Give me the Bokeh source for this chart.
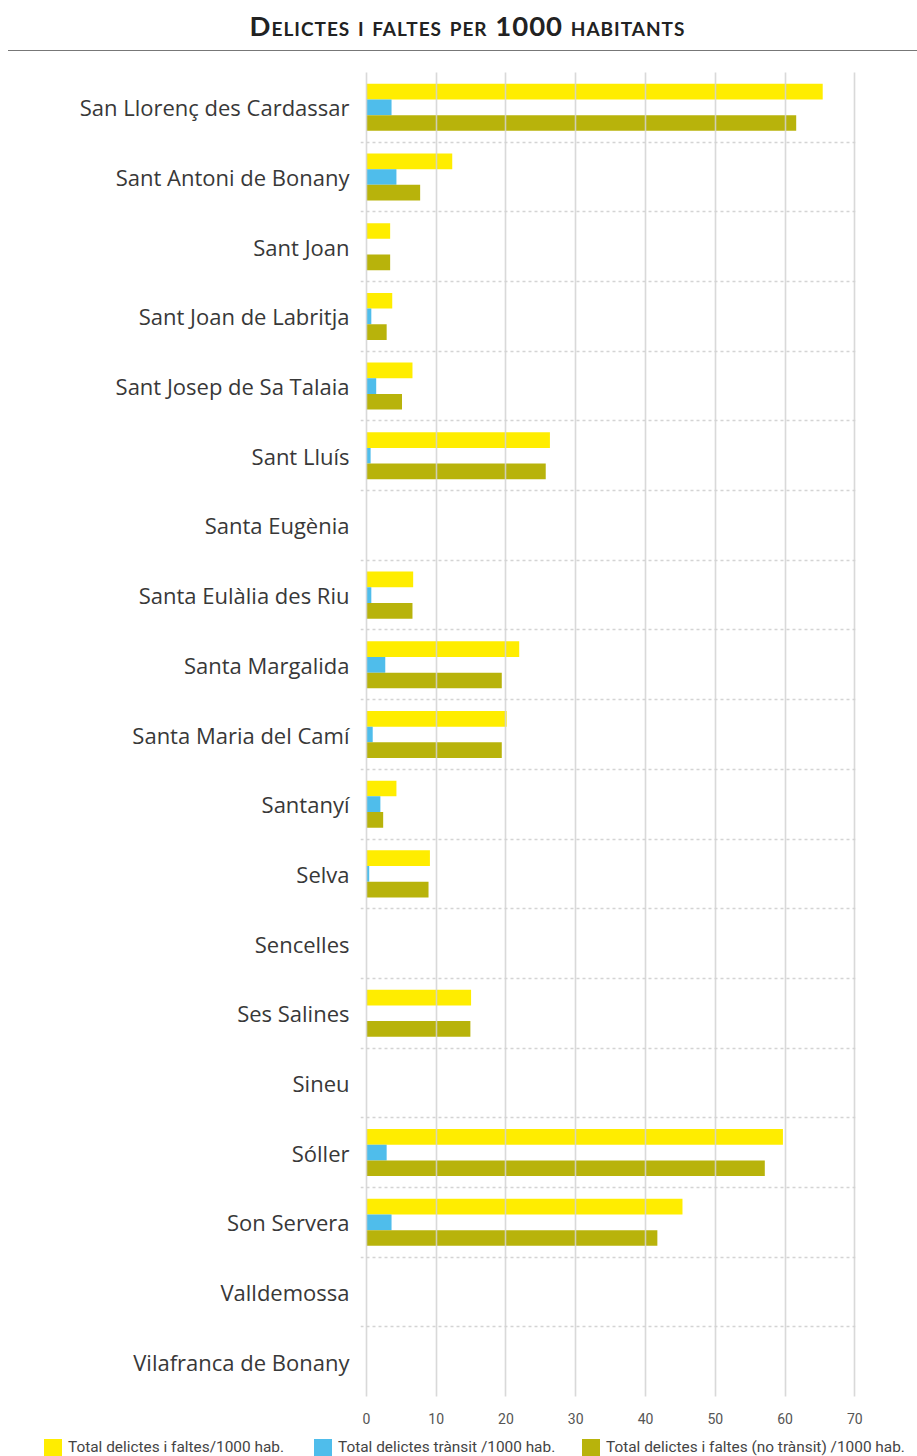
import numpy as np
from bokeh.plotting import figure
from bokeh.models import (Div, Range1d, FixedTicker, ColumnDataSource)
from bokeh.layouts import column
from bokeh.transform import dodge
from bokeh.embed import file_html
from bokeh.resources import INLINE

title_text = "Delictes i faltes per 1000 habitants"

municipis = [
    "San Llorenç des Cardassar", "Sant Antoni de Bonany", "Sant Joan",
    "Sant Joan de Labritja", "Sant Josep de Sa Talaia", "Sant Lluís",
    "Santa Eugènia", "Santa Eulàlia des Riu", "Santa Margalida",
    "Santa Maria del Camí", "Santanyí", "Selva", "Sencelles", "Ses Salines",
    "Sineu", "Sóller", "Son Servera", "Valldemossa", "Vilafranca de Bonany",
]
total = [65.4, 12.3, 3.4, 3.7, 6.6, 26.3, 0, 6.7, 21.9, 20.1, 4.3, 9.1, 0,
         15.0, 0, 59.7, 45.3, 0, 0]
transit = [3.6, 4.3, 0, 0.7, 1.4, 0.6, 0, 0.7, 2.7, 0.9, 2.0, 0.4, 0,
           0, 0, 2.9, 3.6, 0, 0]
no_transit = [61.6, 7.7, 3.4, 2.9, 5.1, 25.7, 0, 6.6, 19.4, 19.4, 2.4, 8.9, 0,
              14.9, 0, 57.1, 41.7, 0, 0]
series_names = ["Total delictes i faltes/1000 hab.",
                "Total delictes trànsit /1000 hab.",
                "Total delictes i faltes (no trànsit) /1000 hab."]
x_ticks = [0, 10, 20, 30, 40, 50, 60, 70]

colors = ["#FFED00", "#4FBDEB", "#B8B30B"]

n = len(municipis)
pos = np.arange(n)
src = ColumnDataSource(dict(
    y=pos, total=total, transit=transit, no_transit=no_transit))

p = figure(width=917, height=1385, output_backend="svg", toolbar_location=None,
           x_range=Range1d(-0.85, 70.1), y_range=Range1d(n - 0.5, -0.5),
           min_border_left=360, min_border_right=62, min_border_top=21,
           min_border_bottom=40, margin=0)
p.outline_line_color = None
p.background_fill_color = "white"

bw = 0.225
r1 = p.hbar(y=dodge("y", -bw, range=p.y_range), left=0, right="total", height=bw,
            source=src, fill_color=colors[0], line_color=None)
r2 = p.hbar(y="y", left=0, right="transit", height=bw,
            source=src, fill_color=colors[1], line_color=None)
r3 = p.hbar(y=dodge("y", bw, range=p.y_range), left=0, right="no_transit",
            height=bw, source=src, fill_color=colors[2], line_color=None)

# grids
p.xgrid.ticker = FixedTicker(ticks=x_ticks)
p.xgrid.grid_line_color = "#d2d2d2"
p.xgrid.grid_line_width = 1.6
p.xgrid.grid_line_alpha = 0.85
p.xgrid.level = "overlay"
p.ygrid.ticker = FixedTicker(ticks=[i - 0.5 for i in range(n + 1)])
p.ygrid.grid_line_color = "#d4d4d4"
p.ygrid.grid_line_width = 1.6
p.ygrid.grid_line_dash = "3 3"

# x axis
xa = p.xaxis[0]
xa.ticker = FixedTicker(ticks=x_ticks)
xa.axis_line_color = None
xa.major_tick_line_color = None
xa.minor_tick_line_color = None
xa.major_tick_out = 0
xa.major_label_standoff = 16
xa.major_label_text_font = "Roboto"
xa.major_label_text_font_size = "14px"
xa.major_label_text_color = "#555555"

# y axis
ya = p.yaxis[0]
ya.ticker = FixedTicker(ticks=list(range(n)))
ya.major_label_overrides = {i: name for i, name in enumerate(municipis)}
ya.axis_line_color = None
ya.major_tick_line_color = None
ya.minor_tick_line_color = None
ya.major_tick_out = 0
ya.major_label_standoff = 11
ya.major_label_text_font = "Open Sans"
ya.major_label_text_font_size = "22px"
ya.major_label_text_color = "#383838"

# legend strip below the chart
legend_x = [44, 314, 582]
items_html = ""
for x, c, name in zip(legend_x, colors, series_names):
    items_html += (
        f'<span style="position:absolute;left:{x}px;top:3px;width:18px;'
        f'height:17px;background:{c};"></span>'
        f'<span style="position:absolute;left:{x + 24}px;top:3px;'
        f'line-height:17px;white-space:nowrap;">{name}</span>')
legend_div = Div(
    text=('<div style="position:relative;width:917px;height:20px;'
          'font-family:Roboto, sans-serif;font-size:15.4px;color:#444;">'
          + items_html + '</div>'),
    width=917, height=20, margin=0)

title = Div(
    text=('<div style="margin-left:8px;width:909px;height:51px;box-sizing:border-box;'
          'border-bottom:1.5px solid #777;text-align:center;padding-left:10px;'
          'font-family:Lato, sans-serif;font-weight:bold;font-size:27.5px;'
          'font-variant:small-caps;letter-spacing:1px;color:#222;padding-top:7px;'
          'line-height:38px;">' + title_text + '</div>'),
    width=917, height=51, margin=0)

layout = column(title, p, legend_div, spacing=0, margin=0)
open("out.html", "w").write(file_html(layout, INLINE))
